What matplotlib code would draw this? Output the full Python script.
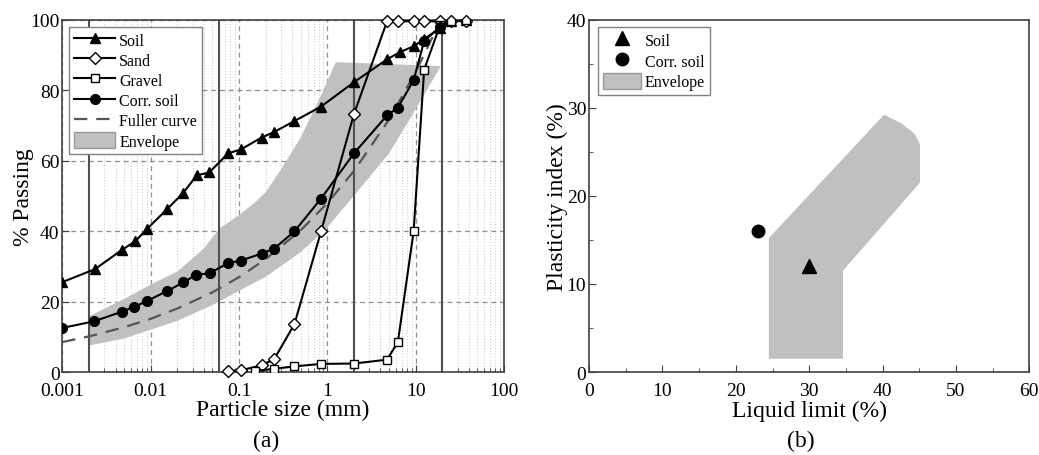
import numpy as np
import matplotlib
matplotlib.use('Agg')
import matplotlib.pyplot as plt
from matplotlib.patches import Patch, Polygon
from matplotlib.lines import Line2D

plt.rcParams['font.family'] = ['Liberation Serif', 'DejaVu Serif']

# grading curves (particle size in mm, % passing)
soil_size = [0.001, 0.00235, 0.0047, 0.0067, 0.0092, 0.0155, 0.0235, 0.0333, 0.046, 0.075,
             0.106, 0.18, 0.25, 0.425, 0.85, 2.0, 4.75, 6.7, 9.5, 12.5, 19.0, 25.0, 37.5]
soil_pass = [25.5, 29.2, 34.6, 37.1, 40.7, 46.3, 50.9, 55.8, 56.6, 62.0,
             63.2, 66.5, 68.1, 71.2, 75.3, 82.2, 88.7, 90.8, 92.4, 94.5, 97.5, 99.5, 100]

sand_size = [0.075, 0.106, 0.18, 0.25, 0.425, 0.85, 2.0, 4.75, 6.3, 9.5, 12.5, 19.0, 25.0, 37.5]
sand_pass = [0.3, 0.5, 1.9, 3.6, 13.6, 39.9, 73.1, 99.5, 99.5, 99.5, 99.5, 99.5, 99.5, 99.7]

gravel_size = [0.15, 0.25, 0.425, 0.85, 2.0, 4.75, 6.3, 9.5, 12.5, 19.0, 25.0, 37.5]
gravel_pass = [0.3, 0.9, 1.6, 2.3, 2.4, 3.5, 8.5, 39.9, 85.8, 98.5, 99.7, 100]

corr_size = [0.001, 0.0023, 0.0047, 0.0065, 0.0092, 0.0154, 0.0234, 0.0327, 0.0464, 0.075,
             0.105, 0.18, 0.25, 0.425, 0.85, 2.0, 4.75, 6.3, 9.5, 12.5, 19.0]
corr_pass = [12.5, 14.4, 17.1, 18.5, 20.2, 23.0, 25.4, 27.6, 28.0, 30.9,
             31.6, 33.6, 35.0, 39.9, 49.2, 62.0, 72.8, 75.0, 82.8, 93.9, 98.0]

fuller_size = [0.001, 0.002, 0.005, 0.01, 0.02, 0.05, 0.1, 0.2, 0.5, 1.0, 2.0, 5.0, 10.0, 19.0]
fuller_pass = [8.5, 10.1, 12.7, 15.1, 18.0, 22.6, 26.9, 32.0, 40.2, 47.9, 57.0, 71.6, 85.1, 99.5]

# grading envelope: upper edge left to right, lower edge right to left
env_upper_size = [0.002, 0.005, 0.01, 0.02, 0.04, 0.06, 0.1, 0.15, 0.2, 0.3, 0.5, 0.85, 1.25, 19.3]
env_upper_pass = [15.8, 20.7, 24.8, 28.5, 35.0, 40.7, 44.5, 48.0, 51.0, 57.5, 66.5, 78.5, 87.9, 86.8]
env_lower_size = [19.3, 10.0, 5.0, 2.0, 1.0, 0.5, 0.2, 0.1, 0.05, 0.02, 0.01, 0.005, 0.002]
env_lower_pass = [86.8, 74.5, 62.0, 50.0, 41.0, 34.0, 27.0, 23.0, 19.0, 14.5, 12.0, 9.5, 7.5]

# boundary sizes clay/silt/sand/gravel/coarse
boundaries = [0.002, 0.06, 2.0, 20.0]

# Atterberg limits
ll_soil, pi_soil = 30, 12
ll_corr, pi_corr = 23, 16
plast_env_ll = [24.5, 34.6, 34.6, 45.1, 45.1, 44.4, 42.6, 40.2, 24.5]
plast_env_pi = [1.5, 1.5, 11.5, 21.5, 25.8, 27.0, 28.2, 29.2, 15.2]

env_grey = '#c0c0c0'
spine_col = '#404040'

fig = plt.figure(figsize=(10.39, 4.56), dpi=100)
ax1 = fig.add_axes([0.060, 0.182, 0.425, 0.773])
ax2 = fig.add_axes([0.567, 0.182, 0.4237, 0.773])

# ---- (a) particle size distribution ----
ax1.set_xscale('log')
ax1.set_xlim(0.001, 100)
ax1.set_ylim(0, 100)

env_x = env_upper_size + env_lower_size
env_y = env_upper_pass + env_lower_pass
ax1.add_patch(Polygon(np.column_stack([env_x, env_y]), closed=True,
                      facecolor=env_grey, edgecolor='none', zorder=1))

for b in boundaries:
    ax1.axvline(b, color='#505050', lw=1.5, zorder=2)

ax1.grid(which='major', axis='both', ls=(0, (4, 3)), color='#909090', lw=0.9, zorder=0)
ax1.grid(which='minor', axis='x', ls=':', color='#d0d0d0', lw=0.8, zorder=0)
ax1.set_axisbelow(True)

ax1.plot(fuller_size, fuller_pass, ls=(0, (6, 4)), color='#555555', lw=1.6, zorder=3)
ax1.plot(soil_size, soil_pass, '-', color='k', lw=1.5, marker='^', ms=7, mfc='k', mec='k', zorder=4)
ax1.plot(sand_size, sand_pass, '-', color='k', lw=1.5, marker='D', ms=6, mfc='white', mec='k', mew=1.0, zorder=4, clip_on=False)
ax1.plot(gravel_size, gravel_pass, '-', color='k', lw=1.5, marker='s', ms=6, mfc='white', mec='k', mew=1.0, zorder=4)
ax1.plot(corr_size, corr_pass, '-', color='k', lw=1.5, marker='o', ms=7, mfc='k', mec='k', zorder=5)

ax1.set_xticks([0.001, 0.01, 0.1, 1, 10, 100])
ax1.set_xticklabels(['0.001', '0.01', '0.1', '1', '10', '100'])
ax1.set_yticks([0, 20, 40, 60, 80, 100])
ax1.tick_params(which='both', direction='in', top=False, right=False, labelsize=14, colors='k')
ax1.tick_params(which='major', length=5, color=spine_col)
ax1.tick_params(axis='x', which='major', pad=7)
ax1.tick_params(axis='y', which='major', pad=2)
ax1.tick_params(which='minor', length=3, color=spine_col)
ax1.set_xlabel('Particle size (mm)', fontsize=17, labelpad=0)
ax1.set_ylabel('% Passing', fontsize=17, labelpad=-3)
for s in ax1.spines.values():
    s.set_color(spine_col)
    s.set_linewidth(1.2)

h1 = [Line2D([], [], color='k', lw=1.5, marker='^', ms=7, mfc='k'),
      Line2D([], [], color='k', lw=1.5, marker='D', ms=6, mfc='white'),
      Line2D([], [], color='k', lw=1.5, marker='s', ms=6, mfc='white'),
      Line2D([], [], color='k', lw=1.5, marker='o', ms=7, mfc='k'),
      Line2D([], [], color='#555555', lw=1.6, ls=(0, (6, 4))),
      Patch(facecolor=env_grey, edgecolor='#999999')]
leg1 = ax1.legend(h1, ['Soil', 'Sand', 'Gravel', 'Corr. soil', 'Fuller curve', 'Envelope'],
                  loc='upper left', fontsize=11.5, frameon=True, fancybox=False,
                  edgecolor='#808080', framealpha=1, handlelength=2.6, handleheight=1.2,
                  labelspacing=0.16, borderpad=0.3, handletextpad=0.25,
                  bbox_to_anchor=(0.015, 0.98), borderaxespad=0.0)
leg1.get_frame().set_linewidth(1.0)

# ---- (b) plasticity chart ----
ax2.set_xlim(0, 60)
ax2.set_ylim(0, 40)
ax2.add_patch(Polygon(np.column_stack([plast_env_ll, plast_env_pi]), closed=True,
                      facecolor=env_grey, edgecolor='none', zorder=1))
ax2.plot([ll_soil], [pi_soil], '^', color='k', ms=10, zorder=3)
ax2.plot([ll_corr], [pi_corr], 'o', color='k', ms=9, zorder=3)

ax2.set_xticks(np.arange(0, 61, 10))
ax2.set_xticks(np.arange(5, 60, 10), minor=True)
ax2.set_yticks(np.arange(0, 41, 10))
ax2.set_yticks(np.arange(5, 40, 10), minor=True)
ax2.tick_params(which='both', direction='in', top=False, right=False, labelsize=14, colors='k')
ax2.tick_params(which='major', length=5, color=spine_col)
ax2.tick_params(axis='x', which='major', pad=7)
ax2.tick_params(axis='y', which='major', pad=2)
ax2.tick_params(which='minor', length=3, color=spine_col)
ax2.set_xlabel('Liquid limit (%)', fontsize=17, labelpad=1)
ax2.set_ylabel('Plasticity index (%)', fontsize=17, labelpad=-1)
for s in ax2.spines.values():
    s.set_color(spine_col)
    s.set_linewidth(1.2)

h2 = [Line2D([], [], color='k', ls='none', marker='^', ms=10),
      Line2D([], [], color='k', ls='none', marker='o', ms=9),
      Patch(facecolor=env_grey, edgecolor='#999999')]
leg2 = ax2.legend(h2, ['Soil', 'Corr. soil', 'Envelope'], loc='upper left', fontsize=11.5,
                  frameon=True, fancybox=False, edgecolor='#808080', framealpha=1,
                  handlelength=2.4, handleheight=1.2, labelspacing=0.2, borderpad=0.3,
                  handletextpad=0.25, bbox_to_anchor=(0.02, 0.98), borderaxespad=0.0)
leg2.get_frame().set_linewidth(1.0)

fig.text(0.256, 0.031, '(a)', ha='center', va='center', fontsize=17)
fig.text(0.771, 0.031, '(b)', ha='center', va='center', fontsize=17)

fig.savefig('out.png', dpi=100)
